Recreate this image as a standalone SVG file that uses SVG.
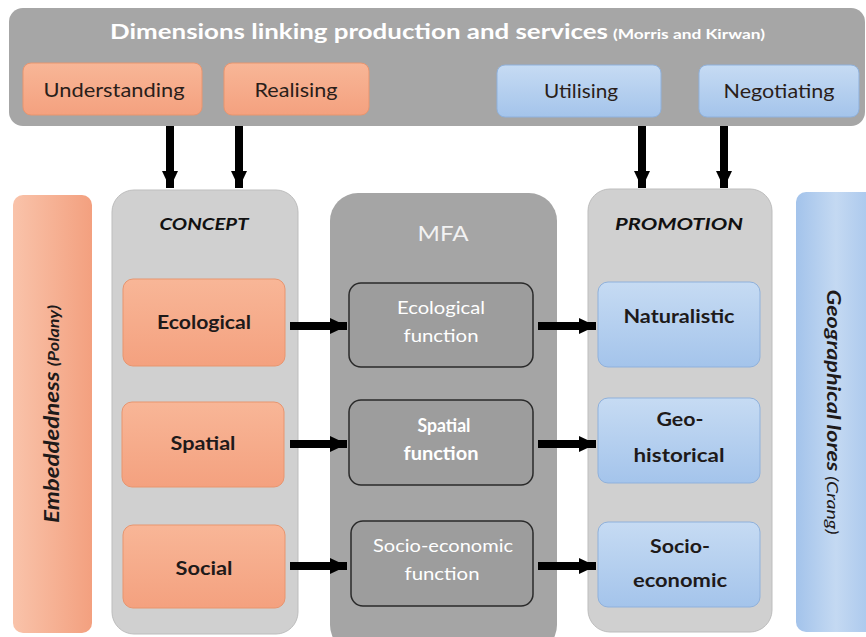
<svg xmlns="http://www.w3.org/2000/svg" width="866" height="637" viewBox="0 0 866 637">
<defs>
<linearGradient id="gOr" x1="0" y1="0" x2="0" y2="1"><stop offset="0" stop-color="#f8b697"/><stop offset="1" stop-color="#f4a17f"/></linearGradient>
<linearGradient id="gOrH" x1="0" y1="0" x2="1" y2="0"><stop offset="0" stop-color="#f9c3aa"/><stop offset="1" stop-color="#f3a07f"/></linearGradient>
<linearGradient id="gBl" x1="0" y1="0" x2="0" y2="1"><stop offset="0" stop-color="#c6dbf3"/><stop offset="1" stop-color="#a4c4eb"/></linearGradient>
<linearGradient id="gBlH" x1="0" y1="0" x2="1" y2="0"><stop offset="0" stop-color="#a3c3eb"/><stop offset="0.5" stop-color="#c4d9f2"/><stop offset="1" stop-color="#a6c5ec"/></linearGradient>
<marker id="ah" markerUnits="userSpaceOnUse" markerWidth="18" markerHeight="18" viewBox="0 0 18 18" refX="17" refY="9" orient="auto"><path d="M0,1 L17,9 L0,17 Z" fill="#000"/></marker>
<style>
text{font-family:Lato,"Liberation Sans",sans-serif}
.or{fill:url(#gOr);stroke:#e8956f;stroke-width:1}
.bl{fill:url(#gBl);stroke:#8fb1dc;stroke-width:1}
.lg{fill:#d0d0d0;stroke:#bdbdbd;stroke-width:1}
.fn{fill:#9d9d9d;stroke:#2a2a2a;stroke-width:1.5}
.t{font-size:20px;fill:#2a1e1a;text-anchor:middle}
.b{font-size:19px;font-weight:bold;fill:#1e1a1a;text-anchor:middle}
.w{font-size:18px;fill:#ffffff;text-anchor:middle}
.bi{font-size:17px;font-weight:bold;font-style:italic;fill:#111;text-anchor:middle}
.con{stroke:#000;stroke-width:8;fill:none;marker-end:url(#ah)}
</style>
</defs>
<g id="banner">
<rect x="9" y="8" width="856" height="118" rx="14" fill="#a6a6a6"/>
<text x="359" y="39" text-anchor="middle" font-size="21" font-weight="bold" fill="#fff" textLength="498" lengthAdjust="spacingAndGlyphs">Dimensions linking production and services</text>
<text x="689" y="39" text-anchor="middle" font-size="13" font-weight="bold" fill="#fff" textLength="152" lengthAdjust="spacingAndGlyphs">(Morris and Kirwan)</text>
</g>
<g id="understanding"><rect class="or" x="23" y="63" width="179" height="52" rx="8"/><text class="t" x="114" y="97" textLength="141" lengthAdjust="spacingAndGlyphs">Understanding</text></g>
<g id="realising"><rect class="or" x="224" y="63" width="145" height="52" rx="8"/><text class="t" x="296" y="97" textLength="83" lengthAdjust="spacingAndGlyphs">Realising</text></g>
<g id="utilising"><rect class="bl" x="497" y="65" width="164" height="52" rx="8"/><text class="t" x="581" y="98" textLength="74" lengthAdjust="spacingAndGlyphs">Utilising</text></g>
<g id="negotiating"><rect class="bl" x="699" y="65" width="160" height="52" rx="8"/><text class="t" x="779" y="98" textLength="111" lengthAdjust="spacingAndGlyphs">Negotiating</text></g>

<g id="embeddedness"><rect x="13" y="195" width="79" height="438" rx="10" fill="url(#gOrH)"/>
<text transform="translate(59,414) rotate(-90)" text-anchor="middle" font-size="20" fill="#1e1a1a" textLength="218" lengthAdjust="spacingAndGlyphs"><tspan font-weight="bold" font-style="italic">Embeddedness </tspan><tspan font-weight="bold" font-style="italic" font-size="15">(Polany)</tspan></text></g>

<g id="concept"><rect class="lg" x="112" y="190" width="186" height="444" rx="22"/><text class="bi" x="204" y="230" textLength="89" lengthAdjust="spacingAndGlyphs">CONCEPT</text></g>
<g id="ecological"><rect class="or" x="123" y="279" width="162" height="87" rx="10"/><text class="b" x="204" y="329" textLength="94" lengthAdjust="spacingAndGlyphs">Ecological</text></g>
<g id="spatial"><rect class="or" x="122" y="402" width="162" height="85" rx="10"/><text class="b" x="203" y="450" textLength="65" lengthAdjust="spacingAndGlyphs">Spatial</text></g>
<g id="social"><rect class="or" x="123" y="525" width="162" height="83" rx="10"/><text class="b" x="204" y="575" textLength="57" lengthAdjust="spacingAndGlyphs">Social</text></g>

<g id="mfa"><rect x="330" y="193" width="227" height="460" rx="28" fill="#a5a5a5"/><text x="443" y="241" text-anchor="middle" font-size="22" fill="#f2f2f2" textLength="51" lengthAdjust="spacingAndGlyphs">MFA</text></g>
<g id="ecological-function"><rect class="fn" x="349" y="283" width="184" height="84" rx="12"/><text class="w" x="441" y="314" textLength="88" lengthAdjust="spacingAndGlyphs">Ecological</text><text class="w" x="441" y="342" textLength="75" lengthAdjust="spacingAndGlyphs">function</text></g>
<g id="spatial-function"><rect class="fn" x="349" y="400" width="184" height="85" rx="12"/><text class="w" x="444" y="432" font-weight="bold" textLength="53" lengthAdjust="spacingAndGlyphs">Spatial</text><text class="w" x="441" y="460" font-weight="bold" textLength="75" lengthAdjust="spacingAndGlyphs">function</text></g>
<g id="socio-economic-function"><rect class="fn" x="351" y="521" width="182" height="85" rx="12"/><text class="w" x="443" y="552" textLength="140" lengthAdjust="spacingAndGlyphs">Socio-economic</text><text class="w" x="442" y="580" textLength="75" lengthAdjust="spacingAndGlyphs">function</text></g>

<g id="promotion"><rect class="lg" x="588" y="189" width="184" height="443" rx="22"/><text class="bi" x="679" y="230" textLength="128" lengthAdjust="spacingAndGlyphs">PROMOTION</text></g>
<g id="naturalistic"><rect class="bl" x="598" y="282" width="162" height="85" rx="10"/><text class="b" x="679" y="323" textLength="111" lengthAdjust="spacingAndGlyphs">Naturalistic</text></g>
<g id="geo-historical"><rect class="bl" x="598" y="398" width="162" height="85" rx="10"/><text class="b" x="680" y="426" textLength="47" lengthAdjust="spacingAndGlyphs">Geo-</text><text class="b" x="679" y="462" textLength="91" lengthAdjust="spacingAndGlyphs">historical</text></g>
<g id="socio-economic"><rect class="bl" x="598" y="522" width="162" height="85" rx="10"/><text class="b" x="680" y="553" textLength="60" lengthAdjust="spacingAndGlyphs">Socio-</text><text class="b" x="680" y="587" textLength="94" lengthAdjust="spacingAndGlyphs">economic</text></g>

<g id="geographical-lores"><rect x="796" y="192" width="80" height="440" rx="10" fill="url(#gBlH)"/>
<text transform="translate(827,412) rotate(90)" text-anchor="middle" font-size="19" fill="#1e1a1a" textLength="245" lengthAdjust="spacingAndGlyphs"><tspan font-weight="bold" font-style="italic">Geographical lores </tspan><tspan font-style="italic" font-size="16">(Crang)</tspan></text></g>

<g id="connectors">
<line class="con" x1="170" y1="126" x2="170" y2="188"/>
<line class="con" x1="239" y1="126" x2="239" y2="188"/>
<line class="con" x1="642" y1="126" x2="642" y2="188"/>
<line class="con" x1="724" y1="126" x2="724" y2="188"/>
<line class="con" x1="290" y1="326" x2="347" y2="326"/>
<line class="con" x1="290" y1="444" x2="347" y2="444"/>
<line class="con" x1="290" y1="566" x2="347" y2="566"/>
<line class="con" x1="538" y1="326" x2="596" y2="326"/>
<line class="con" x1="538" y1="444" x2="596" y2="444"/>
<line class="con" x1="538" y1="566" x2="596" y2="566"/>
</g>
</svg>
